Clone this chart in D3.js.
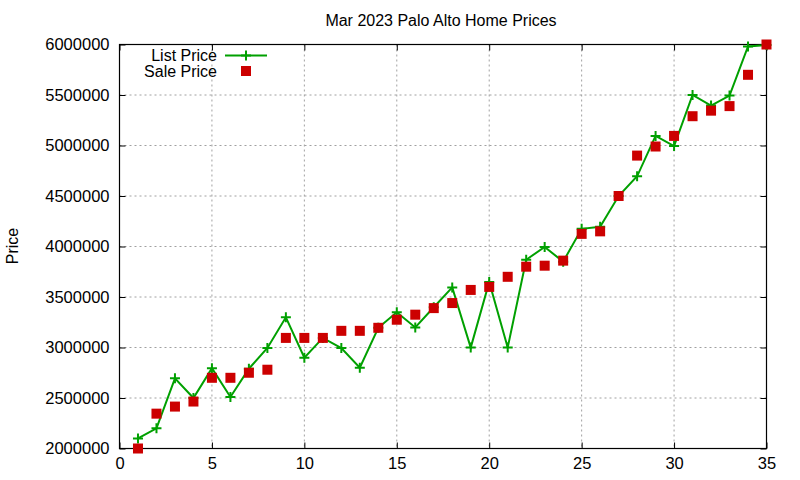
<!DOCTYPE html>
<html><head><meta charset="utf-8">
<script src="https://cdn.jsdelivr.net/npm/d3@7"></script>
<style>body{margin:0;background:#fff}text{font-family:"Liberation Sans",Arial,sans-serif}</style>
</head><body>
<svg id="c" width="800" height="480"></svg>
<script>
const days = d3.range(1, 36);
const listPrice = [2100000,2200000,2695000,2500000,2795000,2510000,2790000,2995000,3299000,2899000,
  3095000,2995000,2800000,3195000,3349000,3199000,3399000,3595000,2999000,3649000,
  2999000,3869000,3995000,3850000,4175000,4195000,4500000,4695000,5095000,4995000,
  5500000,5395000,5495000,5980000,5995000];
const salePrice = [2000000,2345000,2415000,2465000,2700000,2700000,2750000,2780000,3095000,3095000,
  3095000,3165000,3165000,3195000,3275000,3325000,3390000,3440000,3570000,3600000,
  3700000,3800000,3810000,3860000,4125000,4150000,4500000,4900000,4990000,5095000,
  5290000,5345000,5390000,5700000,6000000];
const xTicks = [0,5,10,15,20,25,30,35];
const yTicks = d3.range(2000000, 6000001, 500000);
const title = "Mar 2023 Palo Alto Home Prices";

const svg = d3.select("#c");
const L=119.5, R=766.5, T=44.5, B=448.5;
const x = d3.scaleLinear().domain([0,35]).range([L,R]);
const y = d3.scaleLinear().domain([2000000,6000000]).range([B,T]);
const green="#00a000", red="#cc0000";

// grid
const g = svg.append("g");
g.selectAll(".gx").data(xTicks.filter(d=>d>0&&d<35)).join("line")
  .attr("x1",d=>x(d)).attr("x2",d=>x(d)).attr("y1",T).attr("y2",B)
  .attr("stroke","#a0a0a0").attr("stroke-dasharray","2,3");
g.selectAll(".gy").data(yTicks.filter(d=>d>2000000&&d<6000000)).join("line")
  .attr("y1",d=>y(d)).attr("y2",d=>y(d)).attr("x1",L).attr("x2",R)
  .attr("stroke","#a0a0a0").attr("stroke-dasharray","2,3");

// axes
const fmt = d3.format("d");
const ax = svg.append("g").attr("transform",`translate(0,${B})`)
  .call(d3.axisBottom(x).tickValues(xTicks).tickSize(-6).tickPadding(9).tickFormat(fmt));
const axT = svg.append("g").attr("transform",`translate(0,${T})`)
  .call(d3.axisTop(x).tickValues(xTicks).tickSize(-6).tickFormat(""));
const ay = svg.append("g").attr("transform",`translate(${L},0)`)
  .call(d3.axisLeft(y).tickValues(yTicks).tickSize(-6).tickPadding(10).tickFormat(fmt));
const ayR = svg.append("g").attr("transform",`translate(${R},0)`)
  .call(d3.axisRight(y).tickValues(yTicks).tickSize(-6).tickFormat(""));
[ax,axT,ay,ayR].forEach(a=>{
  a.select(".domain").remove();
  a.selectAll("line").attr("stroke","#000");
  a.selectAll("text").attr("font-size",16.5).attr("fill","#000").attr("font-family","Liberation Sans, Arial, sans-serif");
});
svg.append("rect").attr("x",L).attr("y",T).attr("width",R-L).attr("height",B-T)
  .attr("fill","none").attr("stroke","#000").attr("stroke-width",1.2);

// list line
const line = d3.line().x((d,i)=>x(days[i])).y(d=>y(d));
svg.append("path").datum(listPrice).attr("d",line).attr("fill","none")
  .attr("stroke",green).attr("stroke-width",2);
svg.selectAll(".pl").data(listPrice).join("path")
  .attr("transform",(d,i)=>`translate(${x(days[i])},${y(d)})`)
  .attr("d","M-5,0H5M0,-5V5").attr("stroke",green).attr("stroke-width",2).attr("fill","none");

// sale squares
svg.selectAll(".sq").data(salePrice).join("rect")
  .attr("x",(d,i)=>x(days[i])-5).attr("y",d=>y(d)-5).attr("width",10).attr("height",10)
  .attr("fill",red);

// legend
svg.append("text").attr("x",217).attr("y",61).attr("text-anchor","end").attr("font-size",16).text("List Price");
svg.append("line").attr("x1",225).attr("x2",267).attr("y1",55.5).attr("y2",55.5).attr("stroke",green).attr("stroke-width",2);
svg.append("path").attr("transform","translate(246,55.5)").attr("d","M-5,0H5M0,-5V5").attr("stroke",green).attr("stroke-width",2);
svg.append("text").attr("x",217).attr("y",77).attr("text-anchor","end").attr("font-size",16).text("Sale Price");
svg.append("rect").attr("x",241).attr("y",66).attr("width",10).attr("height",10).attr("fill",red);

// title and y label
svg.append("text").attr("x",441).attr("y",26).attr("text-anchor","middle").attr("font-size",16).text(title);
svg.append("text").attr("transform","translate(18,246) rotate(-90)").attr("text-anchor","middle").attr("font-size",16).text("Price");
</script>
</body></html>
